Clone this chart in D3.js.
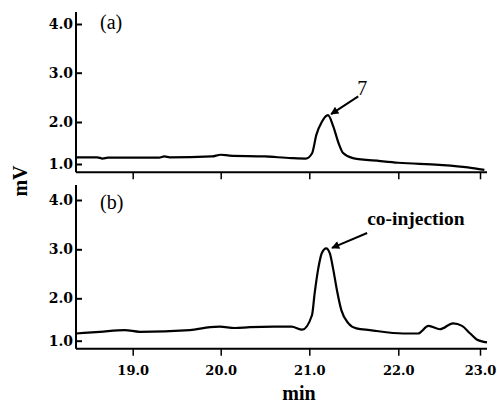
<!DOCTYPE html>
<html>
<head>
<meta charset="utf-8">
<script src="https://cdn.jsdelivr.net/npm/d3@7"></script>
<style>
    body { margin: 0; background: #fff; }
    svg { display: block; }
    .tick text { font-family: "DejaVu Serif", serif; font-weight: bold; font-size: 13px; fill: #000; }
    .y-axis .tick text { font-size: 14px; }
    .domain, .tick line { stroke: #000; }
</style>
</head>
<body>
<svg id="chart" width="497" height="406"></svg>
<script>
// tick values (spacing is slightly uneven in the original)
var xTicks = [19, 20, 21, 22, 23],
    yTicks = [1, 2, 3, 4];

// (a) sample, minutes vs mV
var seriesA = [
    [18.36, 1.16], [18.6, 1.16], [18.66, 1.13], [18.72, 1.15], [19.0, 1.15],
    [19.3, 1.15], [19.36, 1.18], [19.42, 1.16], [19.9, 1.18], [20.0, 1.22],
    [20.1, 1.2], [20.5, 1.18], [20.8, 1.14], [20.96, 1.13], [21.03, 1.25],
    [21.08, 1.7], [21.14, 2.0], [21.21, 2.14], [21.27, 1.89], [21.33, 1.49],
    [21.38, 1.26], [21.49, 1.14], [21.8, 1.07], [22.0, 1.03], [22.5, 0.98],
    [22.85, 0.92], [23.05, 0.86]
];

// (b) co-injection
var seriesB = [
    [18.36, 1.17], [18.63, 1.21], [18.91, 1.25], [19.08, 1.21], [19.65, 1.25],
    [19.88, 1.32], [19.99, 1.33], [20.16, 1.3], [20.33, 1.32], [20.6, 1.33],
    [20.8, 1.33], [20.92, 1.26], [21.03, 1.6], [21.06, 2.1], [21.1, 2.6],
    [21.14, 2.92], [21.19, 3.02], [21.23, 2.92], [21.27, 2.58], [21.31, 2.17],
    [21.36, 1.72], [21.44, 1.41], [21.53, 1.29], [21.68, 1.25], [22.06, 1.17],
    [22.24, 1.17], [22.37, 1.35], [22.51, 1.27], [22.67, 1.41], [22.78, 1.35],
    [22.88, 1.17], [22.96, 1.03], [23.08, 0.96]
];

var panelLabels = ["(a)", "(b)"];
var peakNotes = [
    { text: "7", bold: false, size: 20, tip: [21.245, 2.16], from: [21.55, 2.52], at: [21.54, 2.55] },
    { text: "co-injection", bold: true, size: 19.5, tip: [21.255, 3.03], from: [21.65, 3.33], at: [21.65, 3.49] }
];

var svg = d3.select("#chart");

var axisLeftX = 76,
    axisRightX = 487;

var x = d3.scaleLinear()
    .domain([18.36, 19, 20, 21, 22, 23, 23.08])
    .range([axisLeftX, 132.7, 220.7, 309.3, 398.3, 480, axisRightX]);

var panels = [
    { data: seriesA, label: panelLabels[0], labelAt: 3.9, note: peakNotes[0], top: 12, base: 172.3,
      y: d3.scaleLinear().domain([0.8, 1, 2, 3, 4]).range([172.5, 164, 122, 72.7, 24]), showX: false },
    { data: seriesB, label: panelLabels[1], labelAt: 3.82, note: peakNotes[1], top: 185, base: 348.7,
      y: d3.scaleLinear().domain([0.8, 1, 2, 3, 4]).range([349, 340.7, 298.3, 249.3, 200]), showX: true }
];

svg.append("defs").append("marker")
    .attr("id", "head")
    .attr("viewBox", "0 0 10 10")
    .attr("refX", 9).attr("refY", 5)
    .attr("markerWidth", 11).attr("markerHeight", 8)
    .attr("markerUnits", "userSpaceOnUse")
    .attr("orient", "auto")
    .append("path")
    .attr("d", "M0,0L10,5L0,10z")
    .attr("fill", "#000");

var line = d3.line().curve(d3.curveMonotoneX);

panels.forEach(function(p) {
    var g = svg.append("g");

    // y axis, ticks pointing inward
    g.append("g")
        .attr("class", "y-axis")
        .attr("transform", "translate(" + axisLeftX + ",0)")
        .call(d3.axisLeft(p.y).tickValues(yTicks).tickSize(-6).tickPadding(3).tickFormat(d3.format(".1f")))
        .call(function(a) {
            a.select(".domain").remove();
            a.selectAll(".tick line").attr("stroke-width", 2);
        });
    g.append("line")
        .attr("x1", axisLeftX).attr("x2", axisLeftX)
        .attr("y1", p.top).attr("y2", p.base)
        .attr("stroke", "#000").attr("stroke-width", 2);

    // x axis
    var xa = d3.axisBottom(x).tickValues(xTicks).tickSize(7).tickPadding(10).tickFormat(d3.format(".1f"));
    if (!p.showX) xa.tickFormat("");
    g.append("g")
        .attr("transform", "translate(0," + p.base + ")")
        .call(xa)
        .call(function(a) {
            a.select(".domain").remove();
            a.selectAll(".tick line").attr("stroke-width", 1.5);
        });
    g.append("line")
        .attr("x1", axisLeftX).attr("x2", axisRightX)
        .attr("y1", p.base).attr("y2", p.base)
        .attr("stroke", "#000").attr("stroke-width", 2);

    // trace
    g.append("path")
        .attr("d", line(p.data.map(function(d) { return [x(d[0]), p.y(d[1])]; })))
        .attr("fill", "none")
        .attr("stroke", "#000")
        .attr("stroke-width", 2.2)
        .attr("stroke-linejoin", "round");

    g.append("text")
        .attr("x", 100)
        .attr("y", p.y(p.labelAt))
        .style("font-family", "'Liberation Serif', serif")
        .style("font-size", "20px")
        .text(p.label);

    // peak annotation
    var n = p.note;
    g.append("line")
        .attr("x1", x(n.from[0])).attr("y1", p.y(n.from[1]))
        .attr("x2", x(n.tip[0])).attr("y2", p.y(n.tip[1]))
        .attr("stroke", "#000").attr("stroke-width", 2)
        .attr("marker-end", "url(#head)");
    g.append("text")
        .attr("x", x(n.at[0]))
        .attr("y", p.y(n.at[1]))
        .style("font-family", "'Liberation Serif', serif")
        .style("font-weight", n.bold ? "bold" : "normal")
        .style("font-size", n.size + "px")
        .text(n.text);
});

svg.append("text")
    .attr("x", 299).attr("y", 400)
    .attr("text-anchor", "middle")
    .style("font-family", "'Liberation Serif', serif")
    .style("font-weight", "bold")
    .style("font-size", "20px")
    .text("min");

svg.append("text")
    .attr("transform", "translate(27,181) rotate(-90)")
    .attr("text-anchor", "middle")
    .style("font-family", "'Liberation Serif', serif")
    .style("font-weight", "bold")
    .style("font-size", "20px")
    .text("mV");
</script>
</body>
</html>
